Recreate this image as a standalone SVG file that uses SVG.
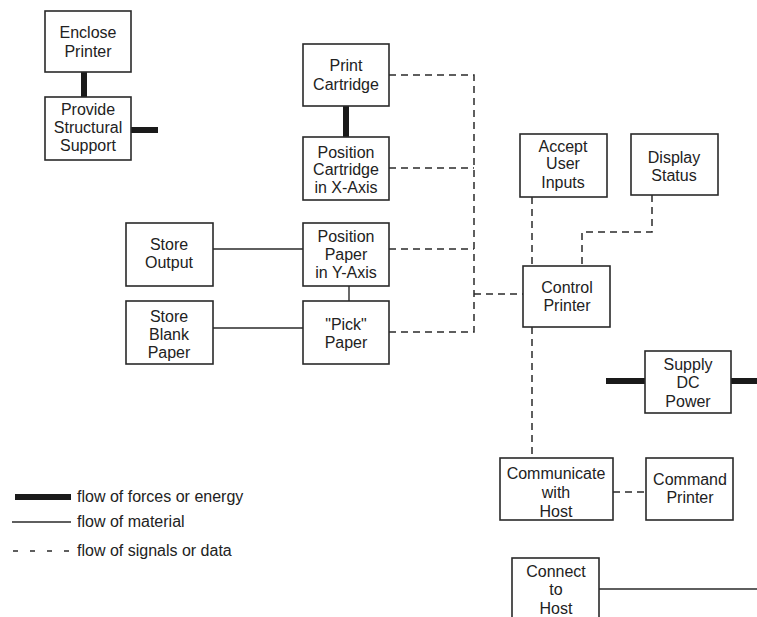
<svg xmlns="http://www.w3.org/2000/svg" width="757" height="617" viewBox="0 0 757 617">
<style>
.box{fill:#fff;stroke:#2a2a2a;stroke-width:1.6}
text{font-family:"Liberation Sans",Arial,sans-serif;font-size:16px;fill:#222;text-anchor:middle}
.lg{text-anchor:start}
.thick{stroke:#1a1a1a;stroke-width:6;fill:none}
.thin{stroke:#2a2a2a;stroke-width:1.4;fill:none}
.dash{stroke:#2a2a2a;stroke-width:1.5;fill:none;stroke-dasharray:7 5}
</style>
<rect width="757" height="617" fill="#fff"/>
<g id="connectors">
<line class="thick" x1="84" y1="72" x2="84" y2="97"/>
<line class="thick" x1="131" y1="130" x2="158" y2="130"/>
<line class="thick" x1="346" y1="106" x2="346" y2="137"/>
<line class="thin" x1="213" y1="249" x2="303" y2="249"/>
<line class="thin" x1="213" y1="328" x2="303" y2="328"/>
<line class="thin" x1="349" y1="286" x2="349" y2="301"/>
<path class="dash" d="M389 75H474V332H389"/>
<line class="dash" x1="389" y1="168" x2="474" y2="168"/>
<line class="dash" x1="389" y1="249" x2="474" y2="249"/>
<line class="dash" x1="474" y1="294" x2="523" y2="294"/>
<line class="dash" x1="532" y1="197" x2="532" y2="266"/>
<path class="dash" d="M652 195V232H582V266"/>
<line class="dash" x1="532" y1="327" x2="532" y2="458"/>
<line class="dash" x1="613" y1="492" x2="646" y2="492"/>
<line class="thick" x1="606" y1="381" x2="645" y2="381"/>
<line class="thick" x1="731" y1="381" x2="757" y2="381"/>
<line class="thin" x1="599" y1="589" x2="757" y2="589"/>
</g>
<g id="enclose-printer"><rect class="box" x="45" y="11" width="86" height="61"/><text x="88" y="38">Enclose</text><text x="88" y="57">Printer</text></g>
<g id="provide-structural-support"><rect class="box" x="45" y="97" width="86" height="63"/><text x="88" y="115">Provide</text><text x="88" y="133">Structural</text><text x="88" y="151">Support</text></g>
<g id="print-cartridge"><rect class="box" x="303" y="44" width="86" height="62"/><text x="346" y="71">Print</text><text x="346" y="90">Cartridge</text></g>
<g id="position-cartridge"><rect class="box" x="303" y="137" width="86" height="63"/><text x="346" y="158">Position</text><text x="346" y="175">Cartridge</text><text x="346" y="193">in X-Axis</text></g>
<g id="store-output"><rect class="box" x="126" y="223" width="87" height="63"/><text x="169" y="250">Store</text><text x="169" y="268">Output</text></g>
<g id="position-paper"><rect class="box" x="303" y="223" width="86" height="63"/><text x="346" y="242">Position</text><text x="346" y="260">Paper</text><text x="346" y="278">in Y-Axis</text></g>
<g id="store-blank-paper"><rect class="box" x="126" y="301" width="87" height="63"/><text x="169" y="322">Store</text><text x="169" y="340">Blank</text><text x="169" y="358">Paper</text></g>
<g id="pick-paper"><rect class="box" x="303" y="301" width="86" height="63"/><text x="346" y="330">"Pick"</text><text x="346" y="348">Paper</text></g>
<g id="accept-user-inputs"><rect class="box" x="520" y="134" width="87" height="63"/><text x="563" y="152">Accept</text><text x="563" y="169">User</text><text x="563" y="188">Inputs</text></g>
<g id="display-status"><rect class="box" x="631" y="134" width="87" height="61"/><text x="674" y="163">Display</text><text x="674" y="181">Status</text></g>
<g id="control-printer"><rect class="box" x="523" y="266" width="87" height="61"/><text x="567" y="293">Control</text><text x="567" y="311">Printer</text></g>
<g id="supply-dc-power"><rect class="box" x="645" y="351" width="86" height="62"/><text x="688" y="370">Supply</text><text x="688" y="388">DC</text><text x="688" y="407">Power</text></g>
<g id="communicate-with-host"><rect class="box" x="500" y="458" width="113" height="62"/><text x="556" y="479">Communicate</text><text x="556" y="498">with</text><text x="556" y="517">Host</text></g>
<g id="command-printer"><rect class="box" x="646" y="458" width="87" height="62"/><text x="690" y="485">Command</text><text x="690" y="503">Printer</text></g>
<g id="connect-to-host"><rect class="box" x="512" y="558" width="87" height="70"/><text x="556" y="577">Connect</text><text x="556" y="595">to</text><text x="556" y="614">Host</text></g>
<g id="legend">
<line class="thick" x1="15" y1="497" x2="71" y2="497"/>
<line class="thin" x1="12" y1="522" x2="71" y2="522"/>
<line class="dash" x1="13" y1="551" x2="71" y2="551" style="stroke-dasharray:5 12"/>
<text class="lg" x="77" y="502">flow of forces or energy</text>
<text class="lg" x="77" y="527">flow of material</text>
<text class="lg" x="77" y="556">flow of signals or data</text>
</g>
</svg>
